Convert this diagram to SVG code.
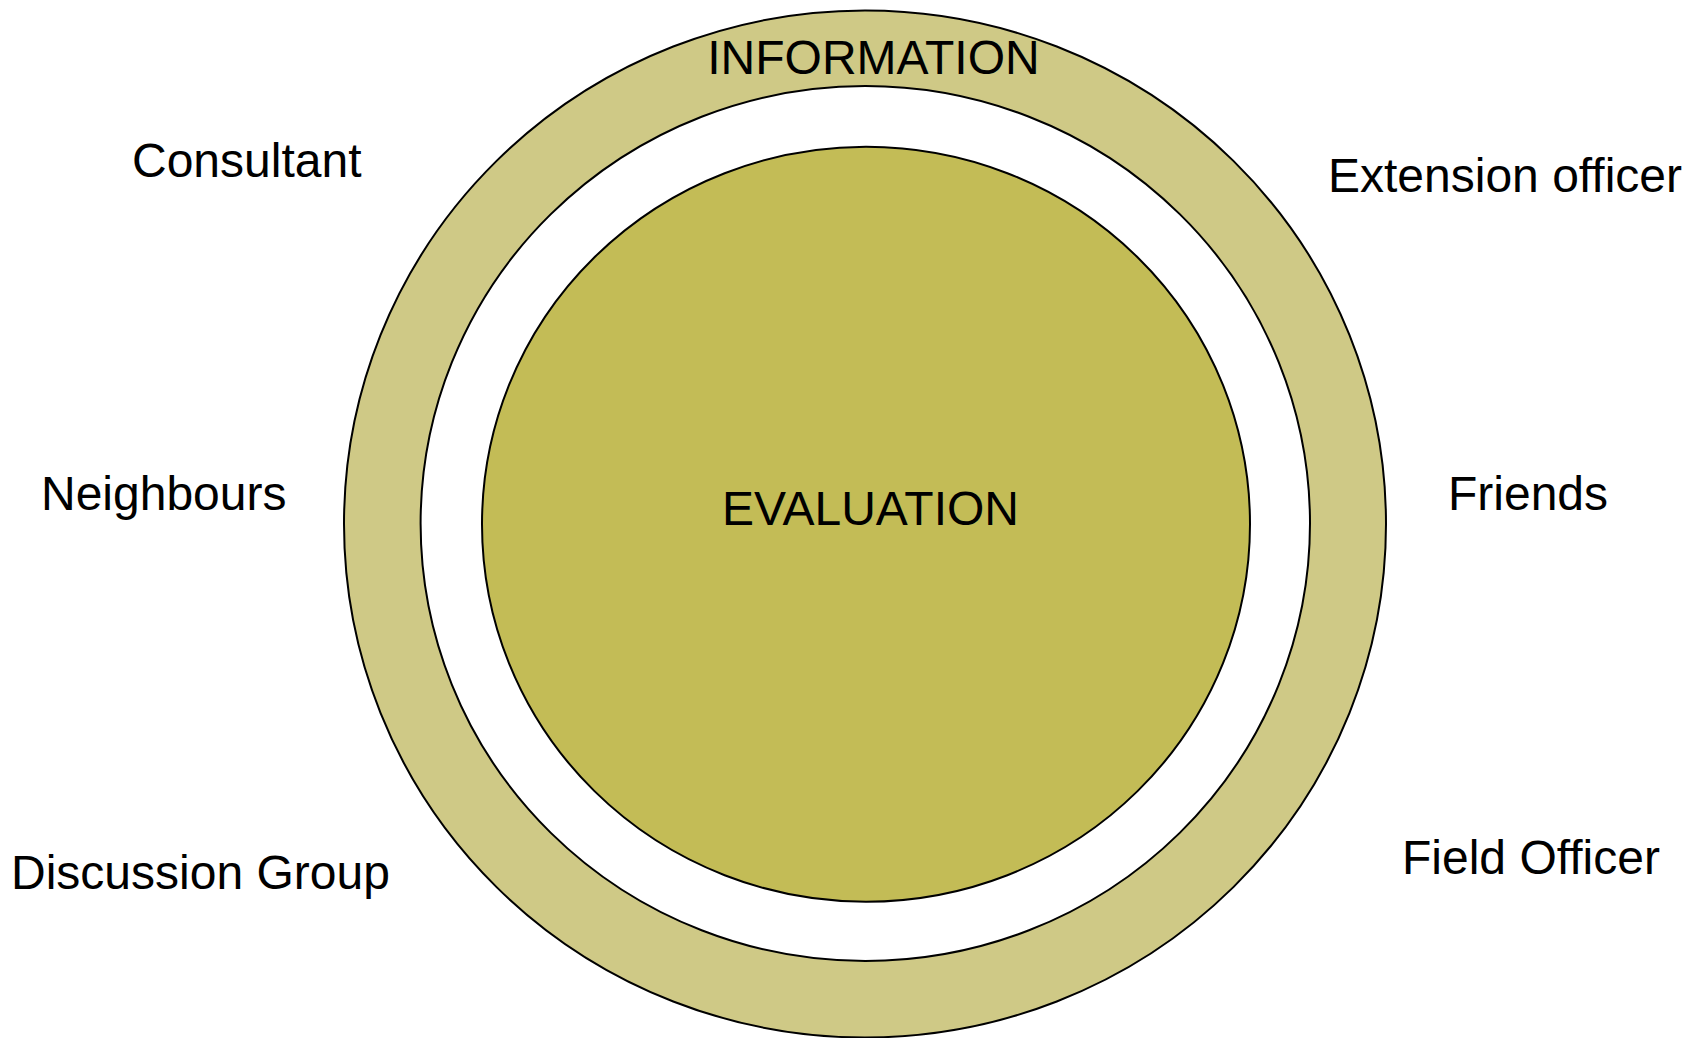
<svg xmlns="http://www.w3.org/2000/svg" width="1696" height="1038" viewBox="0 0 1696 1038">
<style>
.lbl{font-family:"Liberation Sans",Arial,sans-serif;font-size:48px;fill:#000}
.ring{fill:#CFC986;stroke:#000;stroke-width:2}
.gap{fill:#FFFFFF;stroke:#000;stroke-width:2}
.core{fill:#C3BC56;stroke:#000;stroke-width:2}
</style>
<rect width="1696" height="1038" fill="#FFFFFF"/>
<g id="connectors"></g>
<g id="information">
<ellipse class="ring" cx="865" cy="524" rx="521" ry="513.5"/>
<ellipse class="gap" cx="865.3" cy="523.5" rx="444.7" ry="437.5"/>
<text class="lbl" x="873.5" y="74.3" text-anchor="middle">INFORMATION</text>
</g>
<g id="evaluation">
<ellipse class="core" cx="866" cy="524.2" rx="384" ry="377.5"/>
<text class="lbl" x="870.5" y="525" text-anchor="middle">EVALUATION</text>
</g>
<g id="consultant"><text class="lbl" x="132" y="177.3">Consultant</text></g>
<g id="extension-officer"><text class="lbl" x="1328" y="191.7">Extension officer</text></g>
<g id="neighbours"><text class="lbl" x="41" y="510">Neighbours</text></g>
<g id="friends"><text class="lbl" x="1448" y="510">Friends</text></g>
<g id="discussion-group"><text class="lbl" x="11" y="889">Discussion Group</text></g>
<g id="field-officer"><text class="lbl" x="1402" y="874">Field Officer</text></g>
</svg>
